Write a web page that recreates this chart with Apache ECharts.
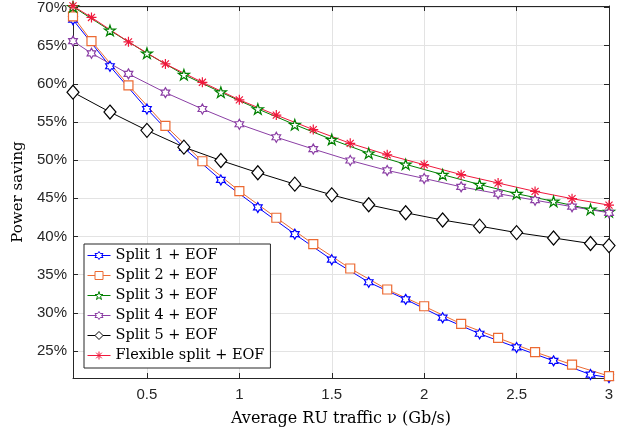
<!DOCTYPE html>
<html>
<head>
<meta charset="utf-8">
<script src="https://cdn.jsdelivr.net/npm/echarts@6/dist/echarts.min.js"></script>
<style>
html,body{margin:0;padding:0;background:#fff;}
#chart{width:631px;height:432px;}
</style>
</head>
<body>
<div id="chart"></div>
<script>
// x positions of the markers
const xOdd  = [0.1, 0.3, 0.5, 0.7, 0.9, 1.1, 1.3, 1.5, 1.7, 1.9, 2.1, 2.3, 2.5, 2.7, 2.9, 3.0];
const xEven = [0.1, 0.2, 0.4, 0.6, 0.8, 1.0, 1.2, 1.4, 1.6, 1.8, 2.0, 2.2, 2.4, 2.6, 2.8, 3.0];

// power saving (%)
const split1   = [68.4, 62.3, 56.7, 51.6, 47.4, 43.8, 40.3, 36.95, 34.0, 31.75, 29.35, 27.25, 25.45, 23.7, 21.9, 21.5];
const split2   = [68.85, 65.6, 59.8, 54.5, 49.85, 45.95, 42.45, 39.0, 35.8, 33.05, 30.85, 28.55, 26.7, 24.85, 23.2, 21.7];
const split3   = [70.1, 67.0, 64.0, 61.2, 58.9, 56.7, 54.65, 52.7, 50.9, 49.45, 48.1, 46.8, 45.6, 44.6, 43.55, 43.25];
const split4   = [65.6, 64.0, 61.3, 58.85, 56.7, 54.7, 53.0, 51.45, 49.95, 48.65, 47.6, 46.5, 45.6, 44.75, 43.9, 43.1];
const split5   = [58.9, 56.3, 53.9, 51.7, 49.95, 48.35, 46.85, 45.45, 44.15, 43.1, 42.15, 41.35, 40.5, 39.8, 39.07, 38.8];
const flexible = [70.2, 68.7, 65.5, 62.6, 60.2, 57.9, 55.9, 54.0, 52.2, 50.7, 49.4, 48.1, 47.0, 45.9, 44.95, 44.1];

const names  = ['Split 1 + EOF', 'Split 2 + EOF', 'Split 3 + EOF', 'Split 4 + EOF', 'Split 5 + EOF', 'Flexible split + EOF'];
const colors = ['#0000ff', '#ec6a33', '#008000', '#8b3fa5', '#000000', '#f0183c'];

const HEX = 'path://M10 0L12.887 5L18.66 5L15.774 10L18.66 15L12.887 15L10 20L7.113 15L1.34 15L4.226 10L1.34 5L7.113 5Z';
const PENT = 'path://M10 0L12.245 6.91L19.511 6.91L13.633 11.18L15.878 18.09L10 13.82L4.122 18.09L6.367 11.18L0.489 6.91L7.755 6.91Z';
const AST = 'path://M10 0L10 20M0 10L20 10M2.93 2.93L17.07 17.07M17.07 2.93L2.93 17.07';
const symbols = [HEX, 'rect', PENT, HEX, 'diamond', AST];

function pairs(xs, ys){ return xs.map((x,i)=>[x, ys[i]]); }

function mk(i, xs, ys, size){
  const color = colors[i];
  return {
    name: names[i],
    type: 'line',
    data: pairs(xs, ys),
    symbol: symbols[i],
    symbolSize: size,
    symbolKeepAspect: true,
    clip: false,
    showAllSymbol: true,
    lineStyle: {color: color, width: 1},
    itemStyle: {color: '#fff', borderColor: color, borderWidth: 1.2},
    emphasis: {disabled: true},
    animation: false
  };
}

const axisColor = '#262626';
const chart = echarts.init(document.getElementById('chart'));
chart.setOption({
  animation: false,
  backgroundColor: '#fff',
  grid: {left: 73, right: 22, top: 4, bottom: 54},
  legend: {
    orient: 'vertical',
    left: 84, top: 244,
    padding: [4, 6, 5, 3],
    itemGap: 5,
    itemWidth: 23,
    itemHeight: 10,
    backgroundColor: '#fff',
    borderColor: axisColor,
    borderWidth: 1,
    borderRadius: 0,
    textStyle: {fontFamily: 'DejaVu Serif', fontSize: 14.5, color: '#000'},
    data: names.map((n, i) => ({
      name: n,
      itemStyle: {color: '#fff', borderColor: colors[i], borderWidth: 1},
      lineStyle: {color: colors[i], width: 1}
    }))
  },
  xAxis: [{
    type: 'value', min: 0.1, max: 3, splitNumber: 6,
    name: 'Average RU traffic \u03BD (Gb/s)', nameLocation: 'middle', nameGap: 33,
    nameTextStyle: {fontFamily: 'DejaVu Serif', fontSize: 16, color: '#000'},
    axisLine: {show: true, lineStyle: {color: axisColor, width: 1}},
    axisTick: {show: true, inside: true, length: 5, lineStyle: {color: axisColor}},
    axisLabel: {showMinLabel: false, margin: 9, fontFamily: 'Liberation Sans', fontSize: 15, color: axisColor,
      formatter: v => String(v)},
    splitLine: {show: true, lineStyle: {color: '#e3e3e3', width: 1}}
  }, {
    type: 'value', min: 0.1, max: 3, splitNumber: 6, position: 'top',
    axisLine: {show: true, onZero: false, lineStyle: {color: axisColor, width: 1}},
    axisTick: {show: true, inside: true, length: 5, lineStyle: {color: axisColor}},
    axisLabel: {show: false},
    splitLine: {show: false}
  }],
  yAxis: [{
    type: 'value', min: 21.45, max: 70.2, splitNumber: 10,
    name: 'Power saving', nameLocation: 'middle', nameGap: 47,
    nameTextStyle: {fontFamily: 'DejaVu Serif', fontSize: 15, color: '#000'},
    axisLine: {show: true, onZero: false, lineStyle: {color: axisColor, width: 1}},
    axisTick: {show: true, inside: true, length: 5, lineStyle: {color: axisColor}},
    axisLabel: {showMinLabel: false, showMaxLabel: false, margin: 6, fontFamily: 'Liberation Sans', fontSize: 15, color: axisColor,
      formatter: v => v + '%'},
    splitLine: {show: true, lineStyle: {color: '#e3e3e3', width: 1}}
  }, {
    type: 'value', min: 21.45, max: 70.2, splitNumber: 10, position: 'right',
    axisLine: {show: true, onZero: false, lineStyle: {color: axisColor, width: 1}},
    axisTick: {show: true, inside: true, length: 5, lineStyle: {color: axisColor}},
    axisLabel: {show: false},
    splitLine: {show: false}
  }],
  series: [
    mk(0, xOdd,  split1,   10),
    mk(1, xEven, split2,   9),
    mk(2, xOdd,  split3,   11),
    mk(3, xEven, split4,   10),
    mk(4, xOdd,  split5,   [12, 14]),
    mk(5, xEven, flexible, 10)
  ]
});
</script>
</body>
</html>
